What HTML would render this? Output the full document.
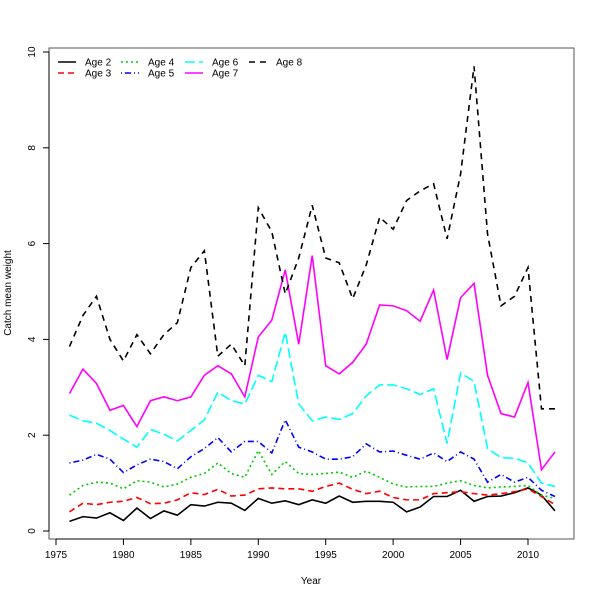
<!DOCTYPE html>
<html><head><meta charset="utf-8"><style>
body{margin:0;background:#fff}
text{font-family:"Liberation Sans",sans-serif;font-size:10px}
</style></head><body>
<svg id="c" width="600" height="600">
<rect x="49" y="48" width="525" height="491" fill="none" stroke="#555"/>
<g id="axes"></g><g id="series"></g><g id="legend"></g>
<text x="311" y="584" text-anchor="middle">Year</text>
<text transform="translate(11,293) rotate(-90)" text-anchor="middle">Catch mean weight</text>
</svg>
<script>
const years=[];for(let y=1976;y<=2012;y++)years.push(y);
const age2=[0.2,0.3,0.27,0.38,0.22,0.48,0.26,0.42,0.33,0.55,0.52,0.6,0.58,0.43,0.68,0.58,0.63,0.55,0.65,0.58,0.73,0.6,0.62,0.62,0.6,0.4,0.5,0.72,0.72,0.85,0.62,0.72,0.73,0.8,0.9,0.75,0.42];
const age3=[0.4,0.58,0.55,0.6,0.62,0.7,0.57,0.58,0.65,0.8,0.76,0.87,0.73,0.75,0.88,0.9,0.88,0.88,0.83,0.93,1.0,0.87,0.78,0.83,0.7,0.65,0.65,0.78,0.8,0.82,0.78,0.75,0.78,0.82,0.88,0.72,0.55];
const age4=[0.75,0.95,1.02,1.0,0.88,1.05,1.02,0.92,0.98,1.12,1.2,1.42,1.2,1.12,1.68,1.18,1.45,1.2,1.18,1.2,1.23,1.12,1.25,1.12,0.98,0.92,0.93,0.93,1.0,1.05,0.95,0.9,0.92,0.93,0.95,0.75,0.68];
const age5=[1.42,1.48,1.6,1.5,1.22,1.38,1.5,1.45,1.3,1.55,1.72,1.95,1.65,1.87,1.87,1.63,2.32,1.75,1.65,1.5,1.5,1.55,1.82,1.65,1.67,1.58,1.5,1.63,1.45,1.65,1.5,1.02,1.18,1.02,1.12,0.85,0.72];
const age6=[2.42,2.3,2.25,2.1,1.92,1.75,2.12,2.02,1.88,2.1,2.32,2.9,2.72,2.65,3.25,3.12,4.15,2.65,2.3,2.38,2.33,2.45,2.82,3.05,3.05,2.97,2.85,2.97,1.83,3.3,3.12,1.72,1.53,1.52,1.42,1.0,0.93];
const age7=[2.87,3.38,3.08,2.52,2.62,2.18,2.72,2.8,2.72,2.8,3.25,3.45,3.28,2.8,4.05,4.4,5.45,3.9,5.75,3.45,3.28,3.52,3.9,4.72,4.7,4.6,4.38,5.03,3.58,4.87,5.17,3.25,2.45,2.38,3.1,1.28,1.65];
const age8=[3.85,4.5,4.9,4.0,3.55,4.1,3.7,4.1,4.35,5.5,5.85,3.65,3.9,3.45,6.75,6.25,4.95,5.7,6.8,5.7,5.6,4.85,5.55,6.55,6.3,6.9,7.1,7.25,6.1,7.45,9.7,6.2,4.7,4.9,5.5,2.55,2.55];
const xTicks=[1975,1980,1985,1990,1995,2000,2005,2010];
const yTicks=[0,2,4,6,8,10];
const NS="http://www.w3.org/2000/svg";
const sx=v=>56+(v-1975)*(528-56)/35;
const sy=v=>531-v*47.9;
function mk(t,a,p){const e=document.createElementNS(NS,t);for(const k in a)e.setAttribute(k,a[k]);p.appendChild(e);return e;}
const ax=document.getElementById('axes');
mk('line',{x1:sx(1975),x2:sx(2010),y1:539,y2:539,stroke:'#000'},ax);
xTicks.forEach(t=>{mk('line',{x1:sx(t),x2:sx(t),y1:539,y2:545,stroke:'#000'},ax);
const tx=mk('text',{x:sx(t),y:558,'text-anchor':'middle'},ax);tx.textContent=t;

});
mk('line',{x1:49,x2:49,y1:sy(0),y2:sy(10),stroke:'#000'},ax);
yTicks.forEach(t=>{mk('line',{x1:43,x2:49,y1:sy(t),y2:sy(t),stroke:'#000'},ax);
const tx=mk('text',{transform:`translate(35,${sy(t)}) rotate(-90)`,'text-anchor':'middle'},ax);tx.textContent=t;

});
const series=[["Age 2",age2,"#000","none"],["Age 3",age3,"#f00","6,4"],["Age 4",age4,"#0c0","2,3"],["Age 5",age5,"#00f","1,3,6,3"],["Age 6",age6,"#0ff","10,4"],["Age 7",age7,"#f0f","none"],["Age 8",age8,"#000","6,5"]];
const sg=document.getElementById('series');
series.forEach(s=>{const p=mk('polyline',{points:s[1].map((v,i)=>sx(years[i])+','+sy(v)).join(' '),fill:'none',stroke:s[2],'stroke-width':1.6,'stroke-dasharray':s[3]},sg);

});
const lg=document.getElementById('legend');
const pos=[[58,62],[58,73],[121,62],[121,73],[185,62],[185,73],[249,62]];
series.forEach((s,i)=>{const [x,y]=pos[i];
const g=mk('g',{},lg);


mk('line',{x1:x,x2:x+18,y1:y,y2:y,stroke:s[2],'stroke-width':1.6,'stroke-dasharray':s[3]},g);
const t=mk('text',{x:x+27,y:y+3.5},g);t.textContent=s[0];});
</script>
</body></html>
